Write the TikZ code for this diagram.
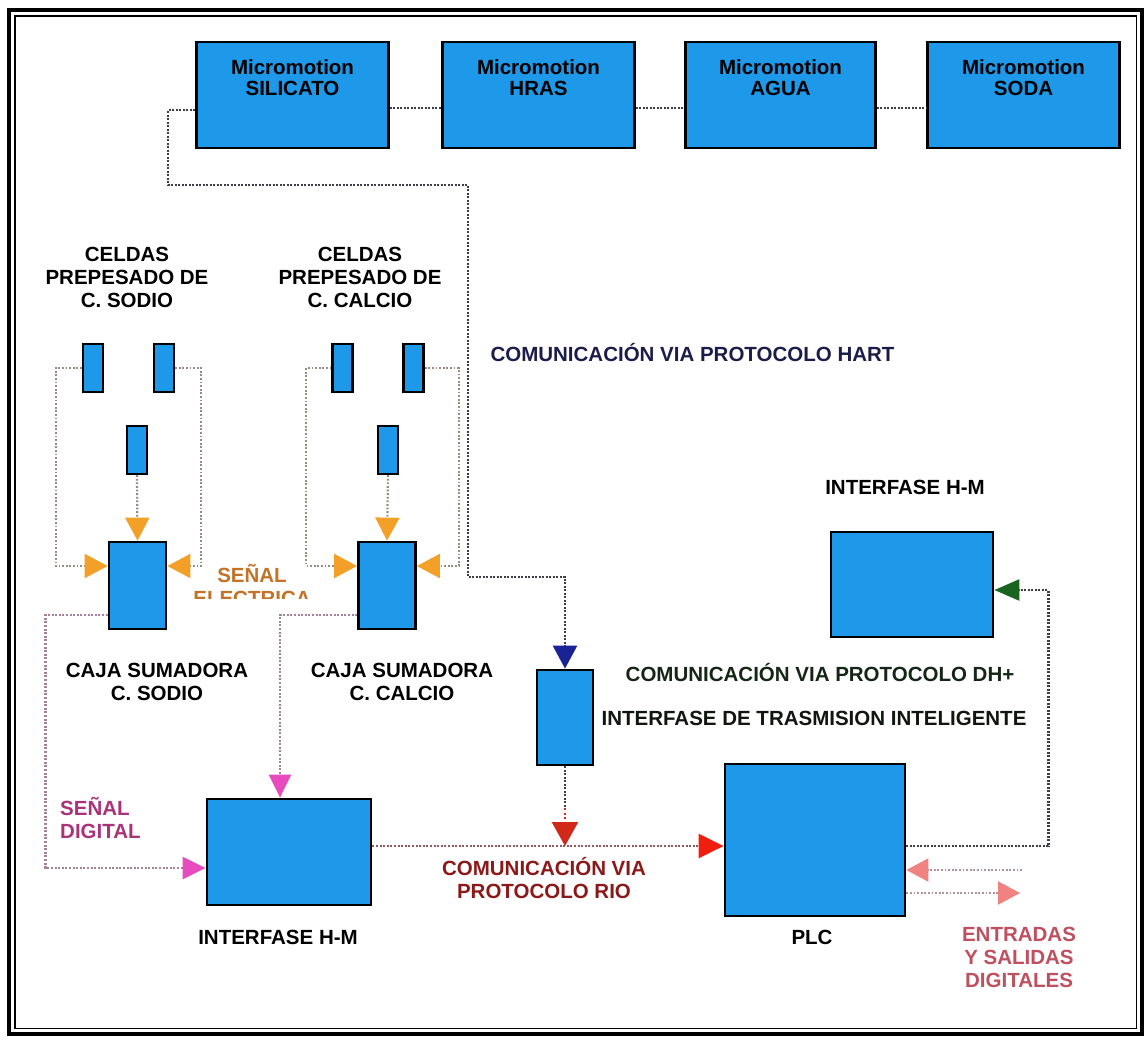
\documentclass[tikz,border=0pt]{standalone}
\usepackage{fontspec}
\setmainfont{Liberation Sans}
\usetikzlibrary{arrows.meta}
\definecolor{boxblue}{RGB}{30,152,232}
\definecolor{hartgray}{RGB}{60,60,75}
\definecolor{cellgray}{RGB}{150,140,130}
\definecolor{cajgray}{RGB}{165,130,155}
\definecolor{riogray}{RGB}{140,90,95}
\definecolor{iogray}{RGB}{180,145,150}
\definecolor{arrorange}{RGB}{242,160,40}
\definecolor{arrpink}{RGB}{232,75,190}
\definecolor{arrnavy}{RGB}{25,35,150}
\definecolor{arrred}{RGB}{210,40,25}
\definecolor{arrred2}{RGB}{240,30,15}
\definecolor{arrgreen}{RGB}{25,100,30}
\definecolor{arrsalmon}{RGB}{240,130,130}
\definecolor{hartc}{RGB}{28,28,74}
\definecolor{elecc}{RGB}{195,115,40}
\definecolor{digc}{RGB}{170,50,120}
\definecolor{rioc}{RGB}{140,25,25}
\definecolor{dhc}{RGB}{22,38,22}
\definecolor{itic}{RGB}{16,22,16}
\definecolor{ioc}{RGB}{190,80,95}
\begin{document}
\begin{tikzpicture}[x=1pt,y=-1pt,
  box/.style={draw=black, line width=2.8pt, fill=boxblue, inner sep=0pt},
  lbl/.style={font=\fontsize{20.5}{23}\selectfont\bfseries, align=center, inner sep=0pt},
  mlbl/.style={font=\fontsize{20.5}{21}\selectfont\bfseries, align=center, inner sep=0pt},
  hartl/.style={draw=hartgray, line width=2.6pt, dash pattern=on 2pt off 1.5pt},
  celll/.style={draw=cellgray, line width=2.2pt, dash pattern=on 1.8pt off 1.8pt},
  cajl/.style={draw=cajgray, line width=2.4pt, dash pattern=on 2pt off 1.6pt},
  riol/.style={draw=riogray, line width=2.4pt, dash pattern=on 2pt off 1.6pt},
  redl/.style={draw=arrred, line width=2.4pt, dash pattern=on 2pt off 2.4pt},
  iol/.style={draw=iogray, line width=2.2pt, dash pattern=on 1.8pt off 1.8pt},
  oarr/.style={-{Triangle[length=23pt,width=24pt,color=arrorange]}},
  parr/.style={-{Triangle[length=23pt,width=22pt,color=arrpink]}},
  narr/.style={-{Triangle[length=23pt,width=24pt,color=arrnavy]}},
  rarr/.style={-{Triangle[length=24pt,width=26pt,color=arrred]}},
  rarrb/.style={-{Triangle[length=25pt,width=24pt,color=arrred2]}},
  garr/.style={-{Triangle[length=25pt,width=21pt,color=arrgreen]}},
  sarr/.style={-{Triangle[length=22pt,width=23pt,color=arrsalmon]}}
]
\useasboundingbox (0,0) rectangle (1146,1039);
\fill[white] (0,0) rectangle (1146,1039);
% frame
\draw[line width=3.2pt] (9,10) rectangle (1142,1034);
\draw[line width=1.6pt] (15,16) rectangle (1136.5,1028.5);

% top boxes
\node[box, minimum width=192pt, minimum height=106pt] (sil)  at (292.5,95) {};
\node[box, minimum width=192pt, minimum height=106pt] (hras) at (538.5,95) {};
\node[box, minimum width=190pt, minimum height=106pt] (agua) at (780.5,95) {};
\node[box, minimum width=192pt, minimum height=106pt] (soda) at (1023.5,95) {};
\node[mlbl] (silt)  at (292.5,77.5) {Micromotion\\SILICATO};
\node[mlbl] (hrast) at (538.5,77.5) {Micromotion\\HRAS};
\node[mlbl] (aguat) at (780.5,77.5) {Micromotion\\AGUA};
\node[mlbl] (sodat) at (1023.5,77.5) {Micromotion\\SODA};

\draw[hartl] ([yshift=-13pt]sil.east) -- ([yshift=-13pt]hras.west);
\draw[hartl] ([yshift=-13pt]hras.east) -- ([yshift=-13pt]agua.west);
\draw[hartl] ([yshift=-13pt]agua.east) -- ([yshift=-13pt]soda.west);

% cells sodio / calcio
\node[box, line width=2.4pt, minimum width=20pt, minimum height=48pt] (s1) at (93,368) {};
\node[box, line width=2.4pt, minimum width=20pt, minimum height=48pt] (s2) at (164,368) {};
\node[box, line width=2.4pt, minimum width=20pt, minimum height=48pt] (s3) at (137,450) {};
\node[box, line width=2.4pt, minimum width=20pt, minimum height=48pt] (c1) at (342.5,368) {};
\node[box, line width=2.4pt, minimum width=20pt, minimum height=48pt] (c2) at (413.5,368) {};
\node[box, line width=2.4pt, minimum width=20pt, minimum height=48pt] (c3) at (388,450) {};

% cajas sumadoras
\node[box, minimum width=57pt, minimum height=87pt] (cs) at (137.5,585.5) {};
\node[box, minimum width=57pt, minimum height=87pt] (cc) at (387,585.5) {};

\draw[celll, oarr] (s1.west) -- ++(-26,0) |- ([yshift=19.5pt]cs.west);
\draw[celll, oarr] (s2.east) -- ++(26,0) |- ([yshift=19.5pt]cs.east);
\draw[celll, oarr] (s3.south) -- (cs.north);
\draw[celll, oarr] (c1.west) -- ++(-25,0) |- ([yshift=19.5pt]cc.west);
\draw[celll, oarr] (c2.east) -- ++(34,0) |- ([yshift=19.5pt]cc.east);
\draw[celll, oarr] (c3.south) -- (cc.north);

% interfases, ITI, PLC
\node[box, minimum width=164pt, minimum height=106pt] (hmL) at (289,852) {};
\node[box, minimum width=162pt, minimum height=105pt] (hmR) at (912,584.5) {};
\node[box, minimum width=56pt, minimum height=95pt] (iti) at (565,717.5) {};
\node[box, minimum width=180pt, minimum height=152pt] (plc) at (815,840) {};

% caja outputs
\draw[cajl, parr] ([yshift=-29.5pt]cs.west) -- ++(-62,0) |- ([yshift=-16pt]hmL.west);
\draw[cajl, parr] ([yshift=-29.5pt]cc.west) -| ([xshift=-9pt]hmL.north);

% HART
\draw[hartl, narr] ([yshift=-15pt]sil.west) -- ++(-27,0) -- ++(0,75) -- ++(300,0) -- ++(0,392) -| (iti.north);

% RIO
\coordinate (rioA) at ([yshift=6pt]hmL.east);
\draw[riol, rarrb] (rioA) -- (rioA -| plc.west);
\draw[hartl] (iti.south) -- ++(0,42) coordinate (itiB);
\draw[redl, rarr] (itiB) -- (iti.south |- rioA);

% DH+
\draw[hartl, garr] ([yshift=-6pt]plc.east) -- ++(142,0) |- ([yshift=-5.5pt]hmR.east);

% digital I/O
\coordinate (ein) at (1022,870);
\coordinate (eout) at (1020,893);
\draw[iol, sarr] (ein) -- (ein -| plc.east);
\draw[iol, sarr] (eout -| plc.east) -- (eout);

% labels
\node[lbl] (celS) at (127,277) {CELDAS\\PREPESADO DE\\C. SODIO};
\node[lbl] (celC) at (360,277) {CELDAS\\PREPESADO DE\\C. CALCIO};
\node[lbl, text=hartc] (hartt) at (692.5,353) {COMUNICACIÓN VIA PROTOCOLO HART};
\node[lbl] (hmRt) at (905,487) {INTERFASE H-M};
\node[lbl] (cajSt) at (157,681.5) {CAJA SUMADORA\\C. SODIO};
\node[lbl] (cajCt) at (402,681.5) {CAJA SUMADORA\\C. CALCIO};
\begin{scope}
\clip (180,550) rectangle (330,598);
\node[lbl, text=elecc] (elect) at (252,584.5) {SEÑAL\\ELECTRICA};
\end{scope}
\node[lbl, text=digc, align=left, anchor=west] (digt) at (60,817.5) {SEÑAL\\DIGITAL};
\node[lbl] (hmLt) at (278,937) {INTERFASE H-M};
\node[lbl, text=rioc] (riot) at (544,878.5) {COMUNICACIÓN VIA\\PROTOCOLO RIO};
\node[lbl, text=dhc] (dht) at (820,673) {COMUNICACIÓN VIA PROTOCOLO DH+};
\node[lbl, text=itic] (itit) at (814,718) {INTERFASE DE TRASMISION INTELIGENTE};
\node[lbl] (plct) at (812,937) {PLC};
\node[lbl, text=ioc] (iot) at (1019,957) {ENTRADAS\\Y SALIDAS\\DIGITALES};
\end{tikzpicture}
\end{document}
